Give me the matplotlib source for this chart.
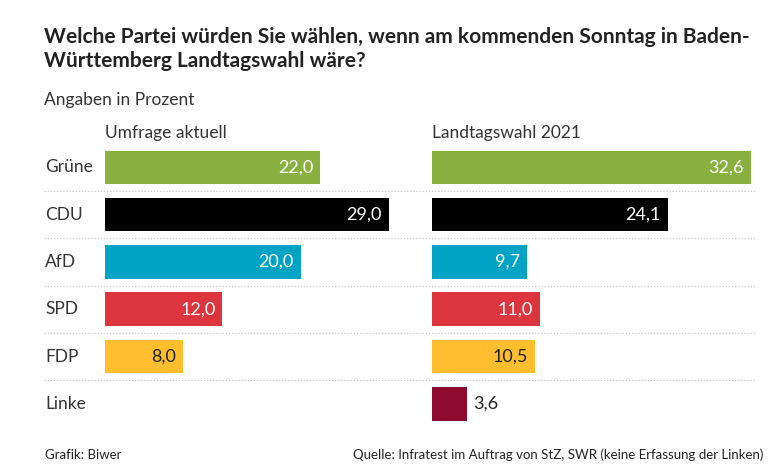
import matplotlib
matplotlib.use("Agg")
import matplotlib.pyplot as plt
import matplotlib.transforms as mtransforms

# ---- data -----------------------------------------------------------------
parteien = ["Grüne", "CDU", "AfD", "SPD", "FDP", "Linke"]
umfrage = [22.0, 29.0, 20.0, 12.0, 8.0, None]      # Linke nicht erfasst
wahl_2021 = [32.6, 24.1, 9.7, 11.0, 10.5, 3.6]
farben = ["#8AB040", "#000000", "#00A3C4", "#DC353E", "#FFBE2E", "#8F0C30"]
label_farben = ["white", "white", "white", "white", "#222222", "#222222"]

TITLE = ("Welche Partei würden Sie wählen, wenn am kommenden Sonntag in Baden-\n"
         "Württemberg Landtagswahl wäre?")

# ---- style ----------------------------------------------------------------
plt.rcParams["font.family"] = ["Lato", "DejaVu Sans"]
TXT = "#333333"

W, H = 777, 475
fig = plt.figure(figsize=(W / 100, H / 100), dpi=100)
fig.patch.set_facecolor("white")


def px_axes(x0, y0, x1, y1):
    """axes from pixel box (top-left origin)"""
    return fig.add_axes([x0 / W, 1 - y1 / H, (x1 - x0) / W, (y1 - y0) / H])


ROW0, PITCH = 167.3, 47.3
Y_TOP = ROW0 - PITCH / 2
Y_BOT = ROW0 + 5 * PITCH + PITCH / 2
ylim = (len(parteien) - 0.5, -0.5)

# background axes: separators + party names
bg = px_axes(44, Y_TOP, 756, Y_BOT)
bg.set_xlim(0, 1)
bg.set_ylim(*ylim)
bg.axis("off")
for i in range(len(parteien) - 1):
    bg.axhline(i + 0.5, color="#c8c8c8", lw=0.9, ls=(0, (1, 1.5)))
for i, p in enumerate(parteien):
    bg.text(0.002, i, p, ha="left", va="center", fontsize=12.5, color=TXT)

XMAX = 33.0


def panel(x0, values, title):
    ax = px_axes(x0, Y_TOP, x0 + XMAX * 9.79, Y_BOT)
    ax.set_xlim(0, XMAX)
    ax.set_ylim(*ylim)
    ax.axis("off")
    ax.patch.set_alpha(0)
    for i, v in enumerate(values):
        if v is None:
            continue
        ax.barh(i, v, height=0.71, color=farben[i], linewidth=0)
        lbl = f"{v:.1f}".replace(".", ",")
        if v > 5:
            off = mtransforms.offset_copy(ax.transData, fig=fig, x=-7, y=0, units="dots")
            ax.text(v, i, lbl, ha="right", va="center", fontsize=13,
                    color=label_farben[i], transform=off)
        else:
            off = mtransforms.offset_copy(ax.transData, fig=fig, x=6, y=0, units="dots")
            ax.text(v, i, lbl, ha="left", va="center", fontsize=13,
                    color="#222222", transform=off)
    fig.text(x0 / W, 1 - 133 / H, title, ha="left", va="center",
             fontsize=12.5, color=TXT)
    return ax


panel(105, umfrage, "Umfrage aktuell")
panel(432, wahl_2021, "Landtagswahl 2021")

fig.text(44 / W, 1 - 49 / H, TITLE, ha="left", va="center", fontsize=15,
         fontweight="bold", color="#222222", linespacing=1.3)
fig.text(44 / W, 1 - 100 / H, "Angaben in Prozent", ha="left", va="center",
         fontsize=12.5, color=TXT)
fig.text(45 / W, 1 - 455 / H, "Grafik: Biwer", ha="left", va="center",
         fontsize=9.5, color="#222222")
fig.text(763 / W, 1 - 455 / H,
         "Quelle: Infratest im Auftrag von StZ, SWR (keine Erfassung der Linken)",
         ha="right", va="center", fontsize=9.5, color="#222222")

fig.savefig("out.png", dpi=100, facecolor="white")
